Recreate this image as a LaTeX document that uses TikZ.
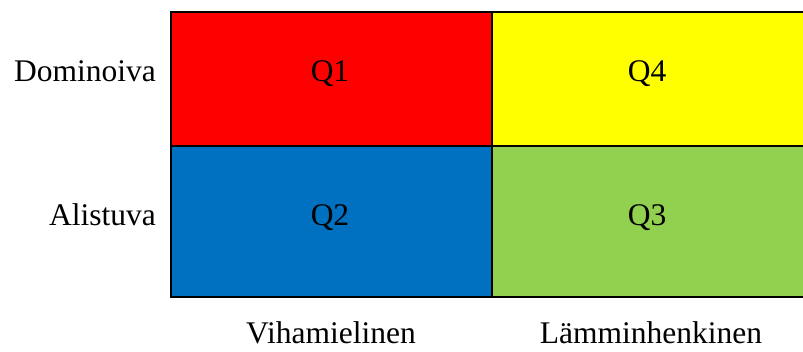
\documentclass[tikz,border=0pt]{standalone}
\usepackage{fontspec}
\setmainfont{Liberation Serif}
\definecolor{qred}{HTML}{FF0000}
\definecolor{qyellow}{HTML}{FFFF00}
\definecolor{qblue}{HTML}{0070C0}
\definecolor{qgreen}{HTML}{92D050}
\tikzset{
  cell/.style={minimum width=321pt, inner sep=0pt, outer sep=0pt},
  toprow/.style={cell, minimum height=134pt},
  botrow/.style={cell, minimum height=151pt},
  lbl/.style={inner sep=0pt, font=\fontsize{31.5}{36}\selectfont},
  grid/.style={line width=2.6pt, black},
}
\begin{document}
\begin{tikzpicture}[x=1pt,y=-1pt]
\useasboundingbox (0,0) rectangle (803,351);
% four quadrants
\node[toprow, fill=qred, anchor=north west] (q1) at (171,12) {};
\node[toprow, fill=qyellow, anchor=north west] (q4) at (492,12) {};
\node[botrow, fill=qblue, anchor=north west] (q2) at (171,146) {};
\node[botrow, fill=qgreen, anchor=north west] (q3) at (492,146) {};
% grid lines
\draw[grid] (q4.north east) -- (q1.north west) -- (q2.south west) -- (q3.south east);
\draw[grid] (q1.north east) -- (q2.south east);
\draw[grid] (q2.north west) -- (q3.north east);
% quadrant names
\node[lbl, anchor=base] (t1) at (330,81) {Q1};
\node[lbl, anchor=base] (t4) at (647,81) {Q4};
\node[lbl, anchor=base] (t2) at (330,225) {Q2};
\node[lbl, anchor=base] (t3) at (647,225) {Q3};
% axis labels
\node[lbl, anchor=base east] (dom) at (156,81) {Dominoiva};
\node[lbl, anchor=base east] (ali) at (156,225) {Alistuva};
\node[lbl, anchor=base] (vih) at (331,343) {Vihamielinen};
\node[lbl, anchor=base] (lam) at (651,343) {Lämminhenkinen};
\end{tikzpicture}
\end{document}
